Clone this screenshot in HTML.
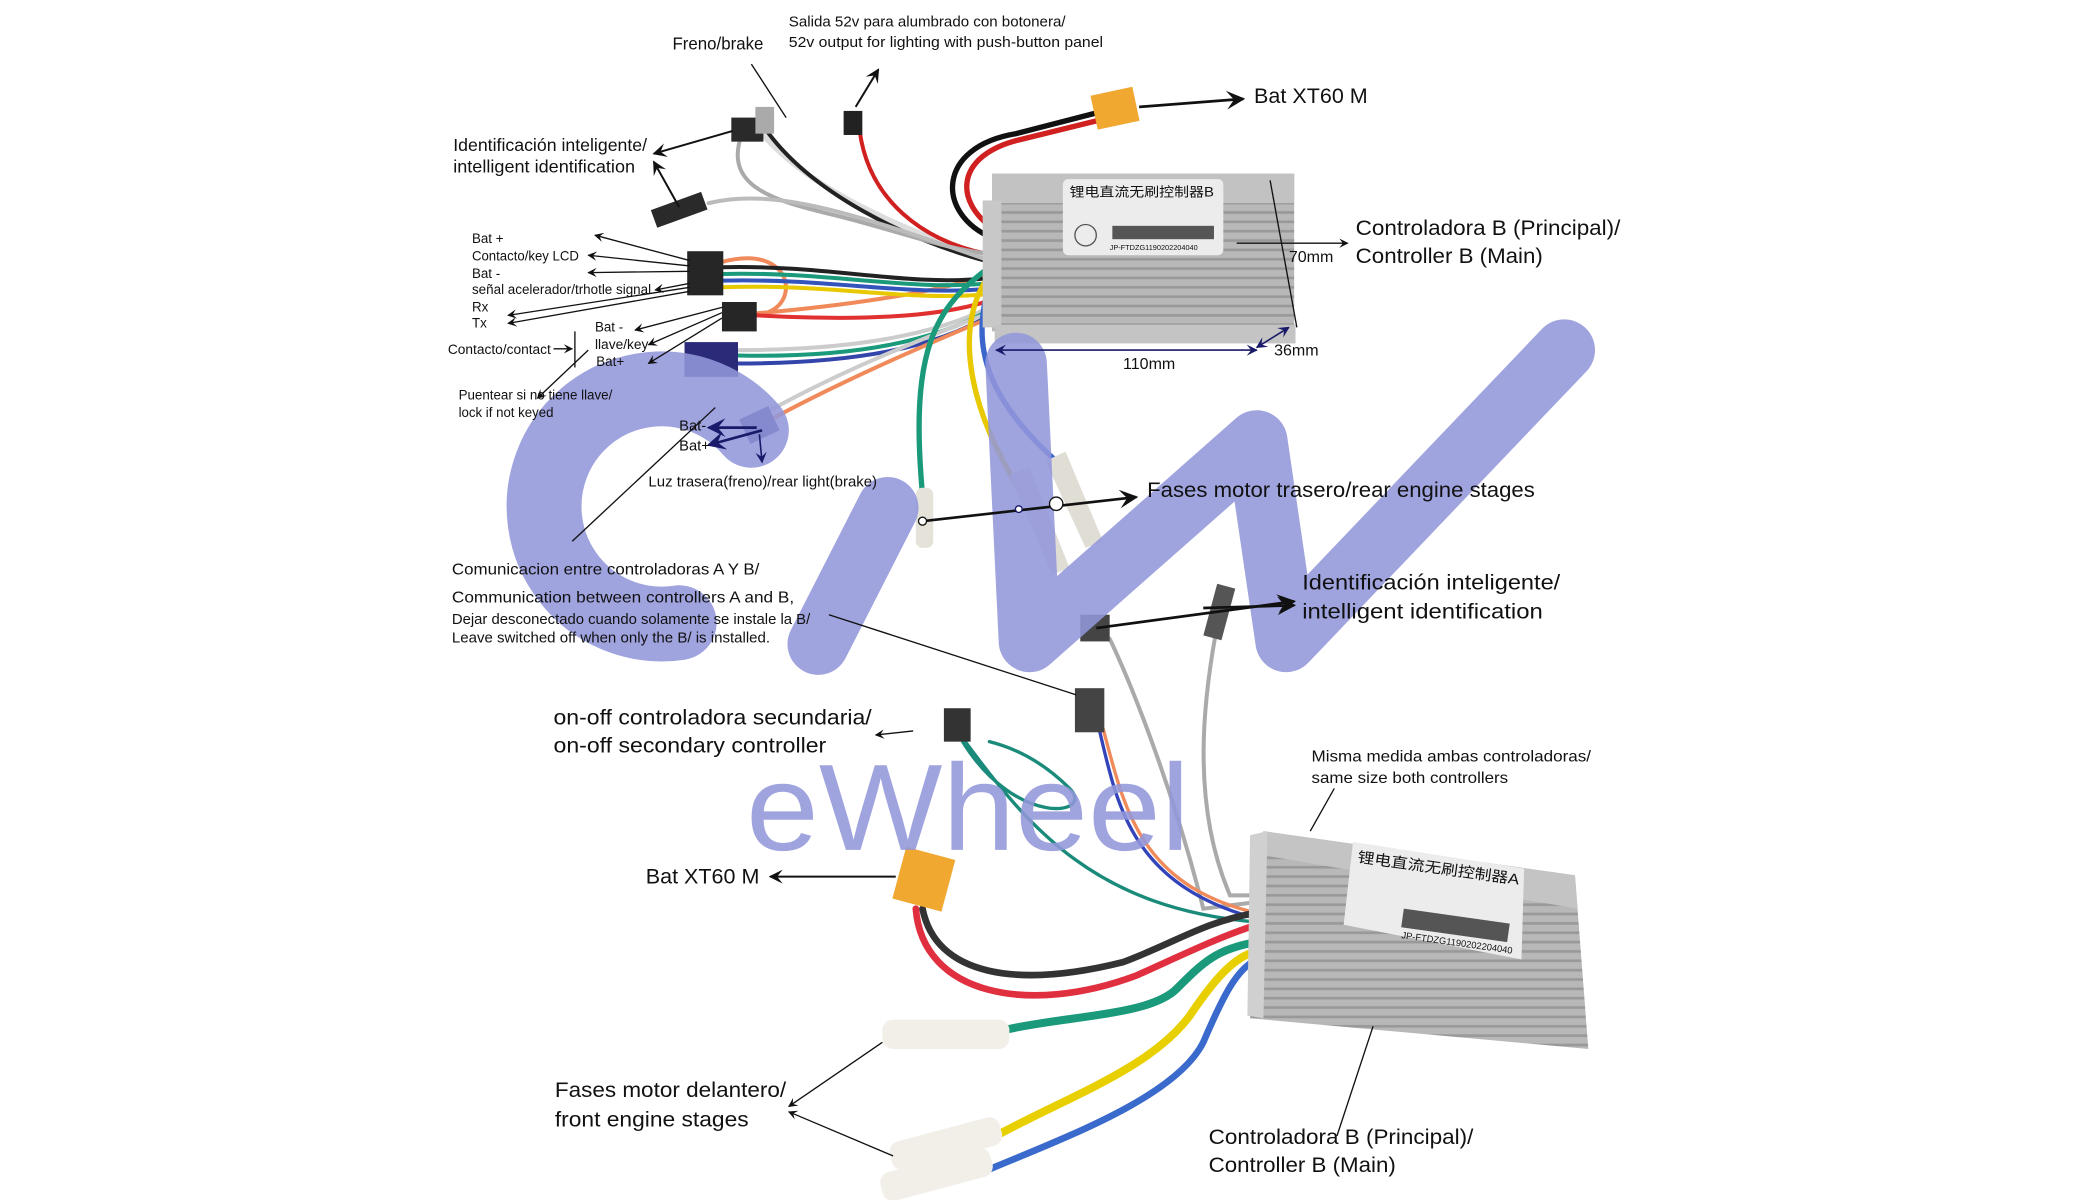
<!DOCTYPE html>
<html><head><meta charset="utf-8"><style>
html,body{margin:0;padding:0;background:#fff;}
svg{display:block;}
text{font-family:"Liberation Sans","Noto Sans CJK SC",sans-serif;fill:#111;}
</style></head><body>
<svg width="2087" height="1200" viewBox="0 0 1561 898" preserveAspectRatio="none" xmlns="http://www.w3.org/2000/svg">
<defs>
<marker id="a" viewBox="0 0 10 10" refX="9" refY="5" markerWidth="7" markerHeight="7" orient="auto-start-reverse"><path d="M0,0 L10,5 L0,10 L4,5 z" fill="#111"/></marker>
<marker id="b" viewBox="0 0 10 10" refX="9" refY="5" markerWidth="7" markerHeight="7" orient="auto-start-reverse"><path d="M0,0 L10,5 L0,10 L4,5 z" fill="#1a1a6a"/></marker>
<pattern id="rib" width="10" height="7" patternUnits="userSpaceOnUse"><rect width="10" height="7" fill="#b8b8b8"/><rect y="4" width="10" height="2" fill="#999"/></pattern>
</defs>

<!-- upper wires -->
<g fill="none" stroke-linecap="round">
<path d="M742,178 C700,160 700,110 760,100 L822,84" stroke="#111" stroke-width="4"/>
<path d="M744,172 C712,150 715,115 765,104 L822,90" stroke="#d02020" stroke-width="4"/>
<path d="M566,95 C600,140 680,175 740,192" stroke="#ddd" stroke-width="4"/>
<path d="M570,93 C605,145 680,180 740,196" stroke="#222" stroke-width="3"/>
<path d="M643,98 C650,150 690,180 738,190" stroke="#d02020" stroke-width="3"/>
<path d="M555,100 C540,140 580,150 620,160 C670,172 700,185 740,190" stroke="#aaa" stroke-width="3"/>
<path d="M530,152 C580,140 640,160 740,195" stroke="#bbb" stroke-width="3"/>
<path d="M540,196 C600,180 600,240 560,235 C620,230 700,220 740,205" stroke="#f08a5a" stroke-width="3"/>
<path d="M540,200 C620,198 680,215 740,208" stroke="#222" stroke-width="3"/>
<path d="M540,205 C620,203 680,218 740,212" stroke="#1a9a7a" stroke-width="3"/>
<path d="M540,210 C620,208 680,222 740,216" stroke="#3355bb" stroke-width="3"/>
<path d="M540,215 C620,212 680,226 740,220" stroke="#e8c800" stroke-width="3"/>
<path d="M566,236 C640,240 700,238 740,225" stroke="#e03030" stroke-width="3"/>
<path d="M552,262 C640,262 700,250 740,230" stroke="#ccc" stroke-width="3"/>
<path d="M552,266 C640,268 700,255 740,232" stroke="#1a9a7a" stroke-width="3"/>
<path d="M552,272 C640,272 700,260 740,236" stroke="#3344aa" stroke-width="3"/>
<path d="M580,312 C640,280 700,255 740,238" stroke="#f08a5a" stroke-width="3"/>
<path d="M578,306 C640,272 700,250 740,234" stroke="#ccc" stroke-width="3"/>
<path d="M740,200 C700,230 680,260 690,370" stroke="#1a9a7a" stroke-width="4"/>
<path d="M740,206 C715,240 720,300 765,370" stroke="#e8c800" stroke-width="4"/>
<path d="M740,214 C725,260 740,300 790,345" stroke="#3a66cc" stroke-width="4"/>
</g>
<rect x="685" y="365" width="13" height="45" rx="5" fill="#e5e2da"/>
<polygon points="755,355 770,350 800,425 787,430" fill="#e0ddd5"/>
<polygon points="782,345 797,338 825,405 812,410" fill="#e0ddd5"/>
<!-- connectors upper -->
<rect x="818" y="68" width="32" height="26" fill="#f0a830" transform="rotate(-12 834 81)"/>
<rect x="631" y="83" width="14" height="18" fill="#222"/>
<rect x="547" y="88" width="24" height="18" fill="#2a2a2a"/>
<rect x="565" y="80" width="14" height="20" fill="#aaa"/>
<rect x="488" y="150" width="40" height="14" fill="#2a2a2a" transform="rotate(-20 508 157)"/>
<rect x="514" y="188" width="27" height="33" fill="#262626"/>
<rect x="540" y="226" width="26" height="22" fill="#262626"/>
<rect x="512" y="256" width="40" height="26" fill="#2a2a78"/>
<rect x="556" y="308" width="24" height="20" fill="#2a2a70" transform="rotate(-25 568 318)"/>

<!-- controller B -->
<rect x="742" y="130" width="226" height="118" fill="url(#rib)"/>
<rect x="742" y="130" width="226" height="22" fill="#c2c2c2"/>
<rect x="735" y="150" width="14" height="95" fill="#c8c8c8"/>
<rect x="744" y="243" width="225" height="14" fill="#c4c4c4"/>
<rect x="795" y="134" width="120" height="57" rx="4" fill="#ececec"/>
<text x="800" y="147" font-size="10" fill="#333" textLength="108" lengthAdjust="spacingAndGlyphs">锂电直流无刷控制器B</text>
<rect x="832" y="169" width="76" height="10" fill="#555"/>
<text x="830" y="187" font-size="5.5">JP-FTDZG1190202204040</text>
<circle cx="812" cy="176" r="8" fill="none" stroke="#555"/>

<!-- lower wires -->
<g fill="none" stroke-linecap="round">
<path d="M830,478 C850,520 880,600 900,680 L940,675" stroke="#aaa" stroke-width="3"/>
<path d="M912,460 C900,520 890,600 920,670 L940,670" stroke="#aaa" stroke-width="3"/>
<path d="M720,555 C760,620 820,610 800,590 C780,570 760,560 740,555" stroke="#1a8a7a" stroke-width="2.5"/>
<path d="M722,555 C770,620 820,680 940,690" stroke="#1a8a7a" stroke-width="2.5"/>
<path d="M825,545 C840,600 850,660 935,682" stroke="#f08a5a" stroke-width="2.5"/>
<path d="M822,545 C835,600 845,660 935,686" stroke="#3344bb" stroke-width="2.5"/>
<path d="M690,680 C700,730 760,740 840,720 C880,705 900,690 940,683" stroke="#333" stroke-width="5"/>
<path d="M685,680 C690,745 770,760 850,730 C890,712 910,702 940,692" stroke="#e03040" stroke-width="5"/>
<path d="M755,770 C800,760 860,760 880,740 C900,720 910,710 940,705" stroke="#1a9a7a" stroke-width="6"/>
<path d="M745,850 C800,820 860,800 890,760 C910,730 925,715 940,712" stroke="#e8d000" stroke-width="6"/>
<path d="M740,875 C800,850 880,820 900,780 C915,745 925,725 940,718" stroke="#3a6acc" stroke-width="5"/>
</g>
<rect x="672" y="638" width="38" height="40" fill="#f0a830" transform="rotate(15 691 658)"/>
<rect x="660" y="763" width="95" height="22" rx="8" fill="#f1efe8"/>
<rect x="665" y="845" width="85" height="22" rx="8" fill="#f1efe8" transform="rotate(-15 707 856)"/>
<rect x="658" y="868" width="85" height="22" rx="8" fill="#f1efe8" transform="rotate(-15 700 879)"/>
<rect x="808" y="460" width="22" height="20" fill="#444"/>
<rect x="905" y="438" width="14" height="40" fill="#555" transform="rotate(15 912 458)"/>
<rect x="706" y="530" width="20" height="25" fill="#333"/>
<rect x="804" y="515" width="22" height="33" fill="#444"/>

<!-- controller A -->
<polygon points="945,622 1178,655 1188,785 935,762" fill="url(#rib)"/>
<polygon points="945,622 1178,655 1180,680 945,640" fill="#c4c4c4"/>
<polygon points="935,625 948,622 945,762 933,760" fill="#d0d0d0"/>
<polygon points="1012,630 1140,650 1138,718 1005,692" fill="#ececec"/>
<text x="1015" y="645" font-size="11" fill="#333" transform="rotate(8 1015 645)" textLength="122" lengthAdjust="spacingAndGlyphs">锂电直流无刷控制器A</text>
<rect x="1050" y="680" width="80" height="14" fill="#555" transform="rotate(8 1050 680)"/>
<text x="1048" y="702" font-size="7" transform="rotate(8 1048 702)">JP-FTDZG1190202204040</text>

<!-- watermark -->
<g fill="none" stroke="#9296d9" stroke-opacity="0.88" stroke-linecap="round" stroke-linejoin="round">
<path d="M562,322 A88 88 0 1 0 508,466" stroke-width="56"/>
<path d="M612,482 L664,380" stroke-width="46"/>
<polyline points="760,272 770,480 940,330 962,480 1170,262" stroke-width="46"/>
</g>
<text x="558" y="636" font-size="92" style="fill:#9296d9" fill-opacity="0.88" textLength="332" lengthAdjust="spacingAndGlyphs">eWheel</text>

<!-- connector lines -->
<g stroke="#111" stroke-width="1" fill="none">
<line x1="588" y1="88" x2="562" y2="48"/>
<line x1="640" y1="80" x2="657" y2="52" marker-end="url(#a)" stroke-width="1.5"/>
<line x1="548" y1="98" x2="489" y2="115" marker-end="url(#a)" stroke-width="1.5"/>
<line x1="508" y1="155" x2="489" y2="121" marker-end="url(#a)" stroke-width="1.5"/>
<line x1="852" y1="80" x2="930" y2="74" marker-end="url(#a)" stroke-width="2"/>
<line x1="925" y1="182" x2="1008" y2="182" marker-end="url(#a)"/>
<line x1="950" y1="135" x2="970" y2="245"/>
<line x1="516" y1="195" x2="445" y2="176" marker-end="url(#a)"/>
<line x1="516" y1="199" x2="440" y2="191" marker-end="url(#a)"/>
<line x1="516" y1="203" x2="440" y2="204" marker-end="url(#a)"/>
<line x1="516" y1="212" x2="490" y2="217" marker-end="url(#a)"/>
<line x1="516" y1="215" x2="380" y2="236" marker-end="url(#a)"/>
<line x1="516" y1="218" x2="380" y2="242" marker-end="url(#a)"/>
<line x1="540" y1="230" x2="475" y2="247" marker-end="url(#a)"/>
<line x1="540" y1="234" x2="485" y2="258" marker-end="url(#a)"/>
<line x1="540" y1="238" x2="485" y2="272" marker-end="url(#a)"/>
<line x1="430" y1="248" x2="430" y2="275"/>
<line x1="414" y1="261" x2="428" y2="261" marker-end="url(#a)"/>
<line x1="440" y1="262" x2="402" y2="298" marker-end="url(#a)"/>
<line x1="535" y1="305" x2="428" y2="405"/>
<line x1="690" y1="390" x2="850" y2="372" marker-end="url(#a)" stroke-width="2"/>
<line x1="620" y1="460" x2="805" y2="520"/>
<line x1="820" y1="470" x2="968" y2="450" marker-end="url(#a)" stroke-width="2"/>
<line x1="900" y1="455" x2="968" y2="453" marker-end="url(#a)" stroke-width="2"/>
<line x1="683" y1="547" x2="655" y2="550" marker-end="url(#a)"/>
<line x1="998" y1="590" x2="980" y2="622"/>
<line x1="670" y1="656" x2="576" y2="656" marker-end="url(#a)" stroke-width="1.5"/>
<line x1="660" y1="780" x2="590" y2="828" marker-end="url(#a)"/>
<line x1="668" y1="865" x2="590" y2="832" marker-end="url(#a)"/>
<line x1="1027" y1="768" x2="1000" y2="850"/>
</g>
<g stroke="#1a1a6a" stroke-width="1.2" fill="none">
<line x1="745" y1="262" x2="940" y2="262" marker-start="url(#b)" marker-end="url(#b)"/>
<line x1="940" y1="260" x2="964" y2="245" marker-start="url(#b)" marker-end="url(#b)"/>
<line x1="566" y1="320" x2="530" y2="320" marker-end="url(#b)" stroke-width="2"/>
<line x1="570" y1="322" x2="530" y2="333" marker-end="url(#b)" stroke-width="2"/>
<line x1="568" y1="325" x2="570" y2="346" marker-end="url(#b)"/>
</g>
<circle cx="690" cy="390" r="3" fill="#fff" stroke="#111"/>
<circle cx="762" cy="381" r="2.5" fill="#fff" stroke="#1a1a6a"/>
<circle cx="790" cy="377" r="5" fill="#fff" stroke="#111"/>

<!-- labels -->
<text x="590" y="20" font-size="11" textLength="207" lengthAdjust="spacingAndGlyphs">Salida 52v para alumbrado con botonera/</text>
<text x="590" y="35" font-size="11" textLength="235" lengthAdjust="spacingAndGlyphs">52v output for lighting with push-button panel</text>
<text x="503" y="37" font-size="13" textLength="68" lengthAdjust="spacingAndGlyphs">Freno/brake</text>
<text x="938" y="77" font-size="16" textLength="85" lengthAdjust="spacingAndGlyphs">Bat XT60 M</text>
<text x="339" y="113" font-size="13" textLength="145" lengthAdjust="spacingAndGlyphs">Identificación inteligente/</text>
<text x="339" y="129" font-size="13" textLength="136" lengthAdjust="spacingAndGlyphs">intelligent identification</text>
<text x="353" y="182" font-size="10">Bat +</text>
<text x="353" y="195" font-size="10" textLength="80" lengthAdjust="spacingAndGlyphs">Contacto/key LCD</text>
<text x="353" y="208" font-size="10">Bat -</text>
<text x="353" y="220" font-size="10" textLength="134" lengthAdjust="spacingAndGlyphs">señal acelerador/trhotle signal</text>
<text x="353" y="233" font-size="10">Rx</text>
<text x="353" y="245" font-size="10">Tx</text>
<text x="445" y="248" font-size="10">Bat -</text>
<text x="445" y="261" font-size="10" textLength="40" lengthAdjust="spacingAndGlyphs">llave/key</text>
<text x="446" y="274" font-size="10">Bat+</text>
<text x="335" y="265" font-size="10" textLength="77" lengthAdjust="spacingAndGlyphs">Contacto/contact</text>
<text x="343" y="299" font-size="10" textLength="115" lengthAdjust="spacingAndGlyphs">Puentear si no tiene  llave/</text>
<text x="343" y="312" font-size="10" textLength="71" lengthAdjust="spacingAndGlyphs">lock if not keyed</text>
<text x="508" y="322" font-size="11">Bat-</text>
<text x="508" y="337" font-size="11">Bat+</text>
<text x="485" y="364" font-size="11" textLength="171" lengthAdjust="spacingAndGlyphs">Luz trasera(freno)/rear light(brake)</text>
<text x="1014" y="176" font-size="16" textLength="198" lengthAdjust="spacingAndGlyphs">Controladora B (Principal)/</text>
<text x="1014" y="197" font-size="16" textLength="140" lengthAdjust="spacingAndGlyphs">Controller B (Main)</text>
<text x="964" y="196" font-size="12">70mm</text>
<text x="840" y="276" font-size="12">110mm</text>
<text x="953" y="266" font-size="12">36mm</text>
<text x="858" y="372" font-size="16" textLength="290" lengthAdjust="spacingAndGlyphs">Fases motor trasero/rear engine stages</text>
<text x="338" y="430" font-size="12" textLength="230" lengthAdjust="spacingAndGlyphs">Comunicacion entre controladoras A Y B/</text>
<text x="338" y="451" font-size="12" textLength="256" lengthAdjust="spacingAndGlyphs">Communication between controllers A and B,</text>
<text x="338" y="467" font-size="11" textLength="268" lengthAdjust="spacingAndGlyphs">Dejar desconectado cuando solamente se instale la B/</text>
<text x="338" y="481" font-size="11" textLength="238" lengthAdjust="spacingAndGlyphs">Leave switched off when only the B/ is installed.</text>
<text x="974" y="441" font-size="16" textLength="193" lengthAdjust="spacingAndGlyphs">Identificación inteligente/</text>
<text x="974" y="463" font-size="16" textLength="180" lengthAdjust="spacingAndGlyphs">intelligent identification</text>
<text x="414" y="542" font-size="16" textLength="238" lengthAdjust="spacingAndGlyphs">on-off controladora secundaria/</text>
<text x="414" y="563" font-size="16" textLength="204" lengthAdjust="spacingAndGlyphs">on-off secondary controller</text>
<text x="981" y="570" font-size="12" textLength="209" lengthAdjust="spacingAndGlyphs">Misma medida ambas controladoras/</text>
<text x="981" y="586" font-size="12" textLength="147" lengthAdjust="spacingAndGlyphs">same size both controllers</text>
<text x="483" y="661" font-size="16" textLength="85" lengthAdjust="spacingAndGlyphs">Bat XT60 M</text>
<text x="415" y="821" font-size="16" textLength="173" lengthAdjust="spacingAndGlyphs">Fases motor delantero/</text>
<text x="415" y="843" font-size="16" textLength="145" lengthAdjust="spacingAndGlyphs">front engine stages</text>
<text x="904" y="856" font-size="16" textLength="198" lengthAdjust="spacingAndGlyphs">Controladora B (Principal)/</text>
<text x="904" y="877" font-size="16" textLength="140" lengthAdjust="spacingAndGlyphs">Controller B (Main)</text>
</svg>
</body></html>
